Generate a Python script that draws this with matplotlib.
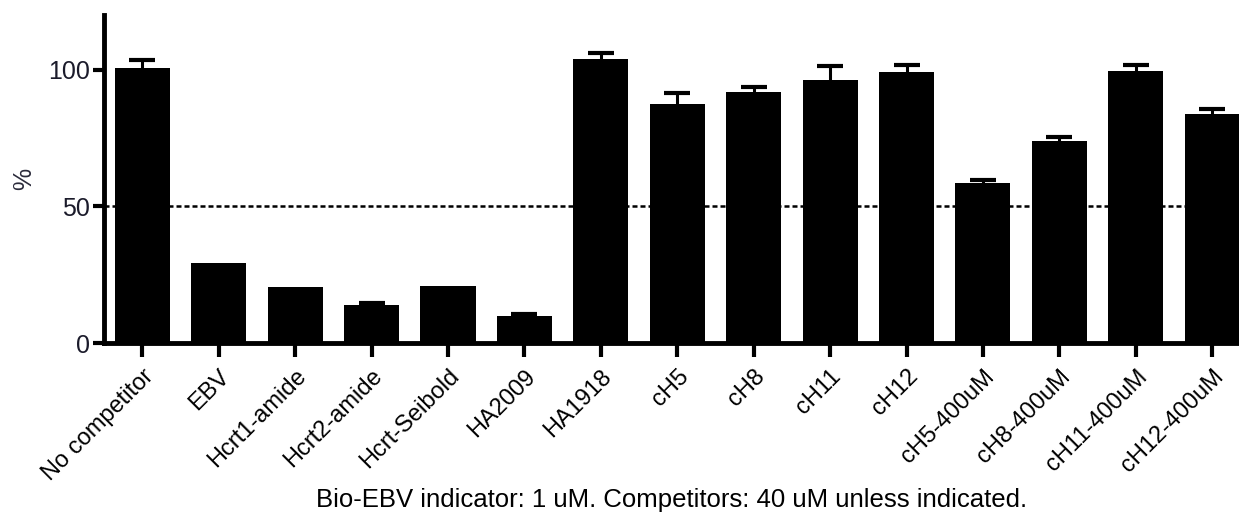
import matplotlib

matplotlib.use("Agg")
import matplotlib.pyplot as plt
import numpy as np

plt.rcParams["font.family"] = ["Liberation Sans", "DejaVu Sans"]

# competition binding, % of signal without competitor (mean, SEM)
labels = ["No competitor", "EBV", "Hcrt1-amide", "Hcrt2-amide", "Hcrt-Seibold",
          "HA2009", "HA1918", "cH5", "cH8", "cH11", "cH12",
          "cH5-400uM", "cH8-400uM", "cH11-400uM", "cH12-400uM"]
means = [100.5, 29.2, 20.6, 14.0, 21.0, 10.0, 103.9, 87.5, 91.8, 96.3, 99.2,
         58.5, 74.0, 99.4, 83.9]
errs = [3.0, 0.0, 0.0, 0.8, 0.0, 0.8, 2.2, 3.9, 2.0, 5.2, 2.5,
        1.3, 1.3, 2.5, 1.9]
threshold = 50

fig = plt.figure(figsize=(12.39, 5.19), dpi=100)
ax = fig.add_axes([0.084, 0.339, 0.916, 0.632])

x = np.arange(len(labels))
m = np.array(means)
e = np.array(errs)
has_err = e > 0

ax.bar(x, m, width=0.72, color="black", zorder=3)
# symmetric bars drawn underneath, so only the upper half shows
ax.errorbar(x[has_err], m[has_err], yerr=e[has_err], fmt="none",
            ecolor="black", elinewidth=2.2, capsize=9.5, capthick=3, zorder=2)
ax.axhline(threshold, color="black", ls=(0, (2, 1.2)), lw=1.8, zorder=1)

ax.set_xlim(-0.5, 14.35)
ax.set_ylim(0, 120)
ax.set_yticks([0, 50, 100])
ax.set_xticks(x)
ax.set_xticklabels(labels, rotation=45, ha="right", rotation_mode="anchor",
                   fontsize=17)
ax.tick_params(axis="y", labelsize=18, width=3, length=8, pad=2,
               colors="black", labelcolor="#1b1b2b")
ax.tick_params(axis="x", width=3, length=10, pad=6)

for side in ("top", "right"):
    ax.spines[side].set_visible(False)
ax.spines["left"].set_linewidth(3.5)
ax.spines["bottom"].set_linewidth(3.5)

ax.set_ylabel("%", fontsize=18, color="#2a2a3a", labelpad=9)
ax.set_xlabel("Bio-EBV indicator: 1 uM. Competitors: 40 uM unless indicated.",
              fontsize=18.5, labelpad=2)

fig.savefig("out.png", dpi=100)
